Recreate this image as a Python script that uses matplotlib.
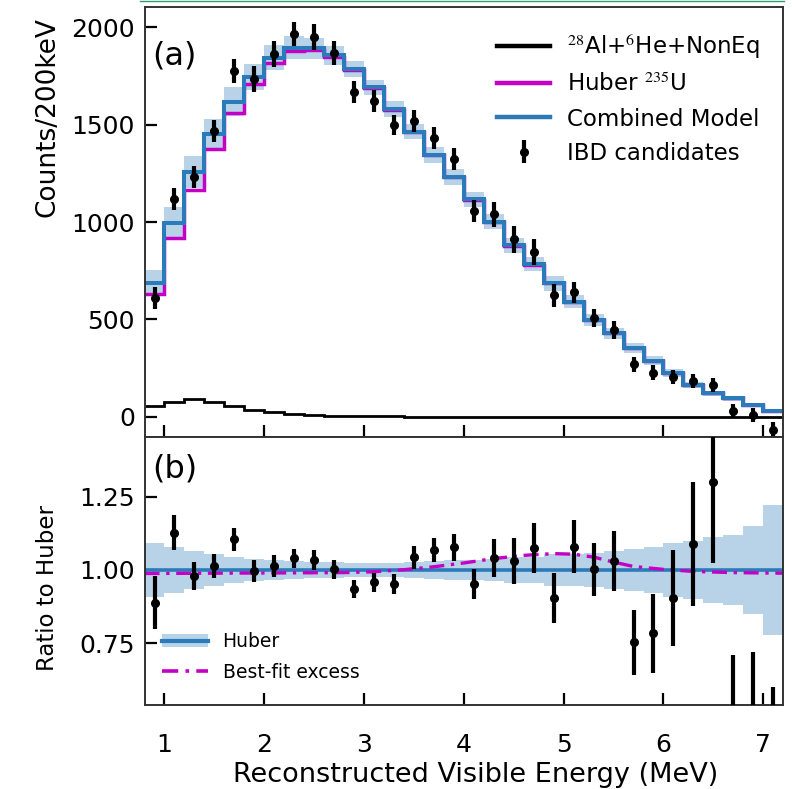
import matplotlib
matplotlib.use('Agg')
import matplotlib.pyplot as plt
from matplotlib.lines import Line2D
from matplotlib.patches import Patch

plt.rcParams['font.family'] = ['DejaVu Sans']
plt.rcParams['mathtext.fontset'] = 'stix'

# 200 keV bins in reconstructed visible energy (MeV)
BIN_EDGES = [0.8, 1.0, 1.2, 1.4, 1.6, 1.8, 2.0, 2.2, 2.4, 2.6, 2.8, 3.0, 3.2, 3.4, 3.6, 3.8, 4.0,
             4.2, 4.4, 4.6, 4.8, 5.0, 5.2, 5.4, 5.6, 5.8, 6.0, 6.2, 6.4, 6.6, 6.8, 7.0, 7.2]
ENERGY = [0.9, 1.1, 1.3, 1.5, 1.7, 1.9, 2.1, 2.3, 2.5, 2.7, 2.9, 3.1, 3.3, 3.5, 3.7, 3.9,
          4.1, 4.3, 4.5, 4.7, 4.9, 5.1, 5.3, 5.5, 5.7, 5.9, 6.1, 6.3, 6.5, 6.7, 6.9, 7.1]

# panel (a): counts per bin
ibd_counts = [612, 1118, 1230, 1467, 1774, 1733, 1862, 1964, 1949, 1867, 1667, 1621, 1497, 1518, 1431, 1323,
              1058, 1040, 911, 845, 624, 639, 509, 446, 270, 227, 205, 186, 164, 33, 10, -65]
ibd_err = [57, 56, 56, 58, 62, 65, 69, 62, 66, 60, 55, 55, 52, 57, 56, 56,
           57, 65, 70, 67, 58, 54, 45, 44, 39, 39, 37, 35, 34, 33, 35, 40]
background = [56, 79, 91, 76, 56, 38, 25, 16, 10, 7, 5, 4, 3, 2, 2, 1,
              1, 1, 1, 1, 0, 0, 0, 0, 0, 0, 0, 0, 0, 0, 0, 0]
huber_u235 = [631, 916, 1164, 1375, 1561, 1707, 1818, 1878, 1881, 1849, 1780, 1687, 1576, 1461, 1342, 1229,
              1115, 1001, 879, 782, 686, 592, 497, 429, 352, 289, 224, 164, 121, 96, 62, 32]
combined = [689, 997, 1255, 1451, 1617, 1745, 1843, 1894, 1891, 1856, 1785, 1691, 1579, 1463, 1344, 1230,
            1116, 1002, 880, 783, 686, 592, 497, 429, 352, 289, 224, 164, 121, 96, 62, 32]
# relative model uncertainty (half width of the shaded band)
model_unc = [0.092, 0.080, 0.065, 0.055, 0.046, 0.038, 0.034, 0.031, 0.029, 0.026, 0.023, 0.023, 0.025, 0.027,
             0.030, 0.034, 0.033, 0.038, 0.043, 0.045, 0.055, 0.056, 0.059, 0.066, 0.071, 0.080, 0.091, 0.100,
             0.114, 0.121, 0.150, 0.224]

# panel (b): ratio to Huber
ratio = [0.888, 1.128, 0.980, 1.014, 1.105, 0.997, 1.014, 1.040, 1.034, 1.002, 0.934, 0.958, 0.952, 1.043,
         1.068, 1.078, 0.951, 1.040, 1.031, 1.076, 0.903, 1.080, 1.002, 1.031, 0.752, 0.783, 0.903, 1.089,
         1.300, 0.35, 0.15, -2.0]
ratio_err = [0.091, 0.061, 0.048, 0.042, 0.040, 0.038, 0.038, 0.033, 0.035, 0.032, 0.031, 0.033, 0.035, 0.039,
             0.042, 0.046, 0.051, 0.065, 0.079, 0.086, 0.085, 0.091, 0.091, 0.103, 0.112, 0.134, 0.164, 0.212,
             0.277, 0.36, 0.57, 2.6]
excess_energy = [0.8, 1.5, 2.2, 2.8, 3.1, 3.4, 3.7, 4.0, 4.3, 4.6, 4.9, 5.1, 5.3, 5.5, 5.7, 6.0, 6.3, 6.7, 7.2]
excess_ratio = [0.988, 0.989, 0.990, 0.991, 0.994, 1.001, 1.011, 1.024, 1.039, 1.050, 1.056, 1.054, 1.044,
                1.027, 1.012, 1.002, 0.995, 0.991, 0.989]

BLUE = '#2b7bba'
LIGHT_BLUE = '#b8d3e8'
MAGENTA = '#c400c4'
SPINE = '#333333'
DASHDOT = (0, (4.5, 2, 1, 2))

fig = plt.figure(figsize=(7.92, 7.89), dpi=100)
ax_top = fig.add_axes([0.1825, 0.4461, 0.8064, 0.5450])
ax_bot = fig.add_axes([0.1825, 0.1065, 0.8064, 0.3396], sharex=ax_top)

# thin border line at the very top of the image
fig.add_artist(Line2D([0.177, 0.99], [0.9985, 0.9985], transform=fig.transFigure, color='#2f9e6e', lw=1.0))

# ---- panel (a)
band_lo = [c * (1 - u) for c, u in zip(combined, model_unc)]
band_hi = [c * (1 + u) for c, u in zip(combined, model_unc)]
ax_top.stairs(band_hi, BIN_EDGES, baseline=band_lo, fill=True, color=LIGHT_BLUE, lw=0)
ax_top.stairs(background, BIN_EDGES, baseline=None, color='black', lw=2.0,
              label=r'$^{28}$Al+$^{6}$He+NonEq')
ax_top.stairs(huber_u235, BIN_EDGES, baseline=None, color=MAGENTA, lw=2.5, label=r'Huber $^{235}$U')
ax_top.stairs(combined, BIN_EDGES, baseline=None, color=BLUE, lw=2.9, label='Combined Model')
ax_top.errorbar(ENERGY, ibd_counts, yerr=ibd_err, fmt='o', color='black', ms=5.5, elinewidth=3.0,
                capsize=0, label='IBD candidates', zorder=5)

ax_top.set_xlim(0.8, 7.2)
ax_top.set_ylim(-103, 2103)
ax_top.set_yticks([0, 500, 1000, 1500, 2000])
ax_top.set_ylabel('Counts/200keV', fontsize=19)
ax_top.yaxis.set_label_coords(-0.152, 0.744)
ax_top.yaxis.label.set_va('center')
ax_top.tick_params(axis='x', labelbottom=False)
ax_top.text(0.012, 0.886, '(a)', transform=ax_top.transAxes, ha='left', va='center', fontsize=23)
leg = ax_top.legend(loc='upper left', bbox_to_anchor=(0.5526, 0.944), frameon=False, fontsize=16.5,
                    borderpad=0, borderaxespad=0, handlelength=2.3, handletextpad=0.75, labelspacing=0.5)
for h in leg.legend_handles[:3]:
    h.set_linewidth(3.2)

# ---- panel (b)
ratio_lo = [1 - u for u in model_unc]
ratio_hi = [1 + u for u in model_unc]
ax_bot.stairs(ratio_hi, BIN_EDGES, baseline=ratio_lo, fill=True, color=LIGHT_BLUE, lw=0)
ax_bot.axhline(1.0, color=BLUE, lw=2.6)
ax_bot.plot(excess_energy, excess_ratio, color=MAGENTA, lw=2.4, ls=DASHDOT)
ax_bot.errorbar(ENERGY, ratio, yerr=ratio_err, fmt='o', color='black', ms=5.5, elinewidth=3.0,
                capsize=0, zorder=5)

ax_bot.set_ylim(0.538, 1.455)
ax_bot.set_yticks([0.75, 1.00, 1.25])
ax_bot.set_yticklabels(['0.75', '1.00', '1.25'])
ax_bot.set_xticks([1, 2, 3, 4, 5, 6, 7])
ax_bot.set_ylabel('Ratio to Huber', fontsize=16.5)
ax_bot.yaxis.set_label_coords(-0.152, 0.437)
ax_bot.yaxis.label.set_va('center')
ax_bot.set_xlabel('Reconstructed Visible Energy (MeV)', fontsize=19.5)
ax_bot.xaxis.set_label_coords(0.518, -0.262)
ax_bot.xaxis.label.set_va('center')
ax_bot.text(0.012, 0.881, '(b)', transform=ax_bot.transAxes, ha='left', va='center', fontsize=23)

huber_handle = (Patch(facecolor=LIGHT_BLUE, edgecolor='none'), Line2D([], [], color=BLUE, lw=3.0))
excess_handle = Line2D([], [], color=MAGENTA, lw=2.6, ls=DASHDOT)
ax_bot.legend([huber_handle, excess_handle], ['Huber', 'Best-fit excess'], loc='upper left',
              bbox_to_anchor=(0.0267, 0.271), frameon=False, fontsize=13.5, borderpad=0,
              borderaxespad=0, handlelength=2.45, handletextpad=0.8, labelspacing=0.62)

for ax in (ax_top, ax_bot):
    for side in ax.spines.values():
        side.set_color(SPINE)
        side.set_linewidth(1.4)
    ax.tick_params(direction='in', length=8.5, width=1.6, labelsize=18, pad=7,
                   top=False, right=False, colors='black')
ax_bot.tick_params(axis='x', pad=20)

fig.savefig('out.png', dpi=100)
